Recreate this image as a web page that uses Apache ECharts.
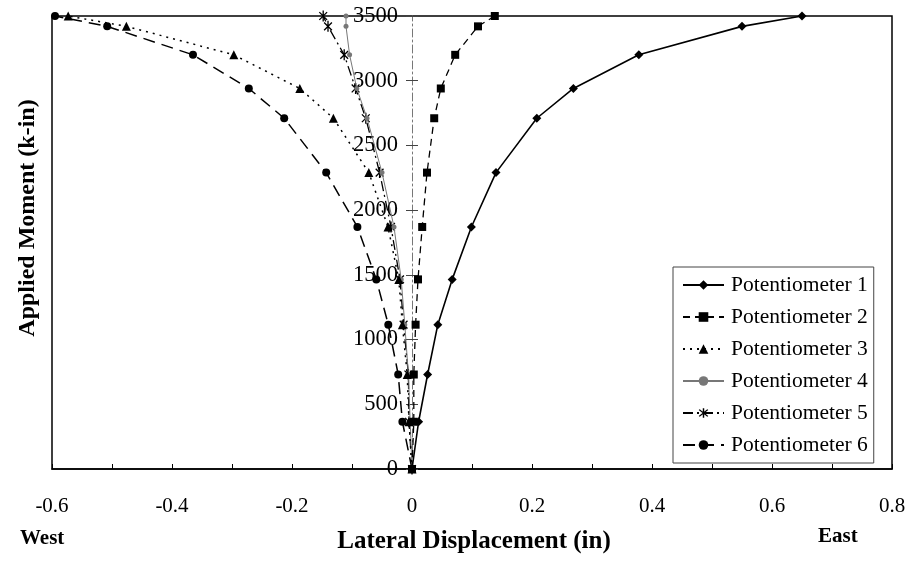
<!DOCTYPE html>
<html>
<head>
<meta charset="utf-8">
<script src="https://cdn.jsdelivr.net/npm/echarts@6/dist/echarts.min.js"></script>
<style>
html,body{margin:0;padding:0;background:#fff;}
#chart{width:911px;height:562px;}
</style>
</head>
<body>
<div id="chart"></div>
<script>
// Applied moment levels (k-in), shared by all potentiometers
var moments = [0, 365, 730, 1115, 1465, 1870, 2290, 2710, 2940, 3200, 3420, 3500];
// Lateral displacement (in) for each potentiometer
var pot1 = [0, 0.011, 0.026, 0.043, 0.067, 0.099, 0.140, 0.208, 0.269, 0.378, 0.550, 0.650];
var pot2 = [0, 0.003, 0.003, 0.006, 0.010, 0.017, 0.025, 0.037, 0.048, 0.072, 0.110, 0.138];
var pot3 = [0, -0.005, -0.008, -0.016, -0.022, -0.040, -0.072, -0.131, -0.187, -0.297, -0.476, -0.573];
var pot4 = [0, -0.003, -0.006, -0.012, -0.018, -0.030, -0.050, -0.075, -0.092, -0.104, -0.110, -0.110];
var pot5 = [0, -0.005, -0.006, -0.014, -0.020, -0.035, -0.054, -0.077, -0.094, -0.113, -0.140, -0.148];
var pot6 = [0, -0.016, -0.023, -0.0395, -0.0595, -0.091, -0.143, -0.213, -0.272, -0.365, -0.508, -0.595];
var seriesNames = ['Potentiometer 1', 'Potentiometer 2', 'Potentiometer 3', 'Potentiometer 4', 'Potentiometer 5', 'Potentiometer 6'];
var xTitle = 'Lateral Displacement (in)';
var yTitle = 'Applied Moment (k-in)';
var westLabel = 'West';
var eastLabel = 'East';

function pairs(xs) { return xs.map(function (v, i) { return [v, moments[i]]; }); }

var asterisk = 'path://M-1.2 -10L1.2 -10L1.2 10L-1.2 10Z' +
  'M-6.222 -7.92L7.92 6.222L6.222 7.92L-7.92 -6.222Z' +
  'M-7.92 6.222L6.222 -7.92L7.92 -6.222L-6.222 7.92Z';

var serif = '"Liberation Serif", "Times New Roman", serif';

var styles = [
  { data: pot1, symbol: 'diamond', size: 9, color: '#000', line: { type: 'solid', width: 1.6 } },
  { data: pot2, symbol: 'rect', size: 8, color: '#000', line: { type: [7, 5], width: 1.3 } },
  { data: pot3, symbol: 'triangle', size: 9, color: '#000', line: { type: [2, 5], width: 1.5 } },
  { data: pot4, symbol: 'circle', size: 5, color: '#777', line: { type: 'solid', width: 1 } },
  { data: pot5, symbol: asterisk, size: 11, color: '#000', line: { type: [10, 4, 2, 4], width: 1.3 } },
  { data: pot6, symbol: 'circle', size: 8, color: '#000', line: { type: [12, 7], width: 1.5 } }
];

var series = styles.map(function (s, i) {
  return {
    name: seriesNames[i],
    type: 'line',
    data: pairs(s.data),
    symbol: s.symbol,
    symbolSize: s.size,
    symbolKeepAspect: true,
    showSymbol: true,
    animation: false,
    itemStyle: { color: s.color },
    lineStyle: { color: s.color, type: s.line.type, width: s.line.width },
    z: 10 - i
  };
});

// grid geometry: x = 0 sits 0.6/1.4 of the way across the plot width
var gridLeft = 52, gridRight = 19, chartW = 911;
var plotW = chartW - gridLeft - gridRight;
var zeroOffset = -plotW * 0.6 / 1.4;

var chart = echarts.init(document.getElementById('chart'));
chart.setOption({
  backgroundColor: '#fff',
  animation: false,
  grid: {
    left: gridLeft, right: gridRight, top: 16, bottom: 93,
    containLabel: false, outerBoundsMode: 'none',
    show: true, borderColor: '#000', borderWidth: 1.5, backgroundColor: 'transparent'
  },
  xAxis: {
    type: 'value', min: -0.6, max: 0.8, interval: 0.2,
    axisLine: { onZero: false, lineStyle: { color: '#000', width: 1.5 } },
    axisTick: { show: true, inside: true, length: 5, lineStyle: { color: '#000' } },
    minorTick: { show: true, splitNumber: 2, length: 5, lineStyle: { color: '#000' } },
    splitLine: { show: false },
    axisLabel: { color: '#000', fontFamily: serif, fontSize: 21, margin: 27,
      formatter: function (v) { return String(Math.round(v * 10) / 10); } }
  },
  yAxis: [{
    type: 'value', min: 0, max: 3500, interval: 500, position: 'left', offset: zeroOffset,
    axisLine: { onZero: false, lineStyle: { color: '#777', width: 1, type: [8, 3, 2, 3] } },
    axisTick: { show: true, inside: false, length: 6, lineStyle: { color: '#444' } },
    splitLine: { show: false },
    axisLabel: { color: '#000', fontFamily: serif, fontSize: 22.5, margin: 14,
      formatter: function (v) { return String(v); } }
  }, {
    type: 'value', min: 0, max: 3500, interval: 500, position: 'left', offset: zeroOffset,
    axisLine: { show: false, onZero: false },
    axisTick: { show: true, inside: true, length: 6, lineStyle: { color: '#444' } },
    splitLine: { show: false },
    axisLabel: { show: false }
  }],
  legend: {
    orient: 'vertical',
    left: 673, top: 267,
    padding: [7, 6, 7, 9],
    itemWidth: 41, itemHeight: 12, itemGap: 10,
    backgroundColor: '#fff',
    borderColor: '#444', borderWidth: 1,
    textStyle: { color: '#000', fontFamily: serif, fontSize: 21.5, lineHeight: 22, padding: [0, 0, 0, 2] },
    data: seriesNames
  },
  graphic: [
    { type: 'text', x: 474, y: 529, style: { text: xTitle, font: 'bold 25px ' + serif, fill: '#000', align: 'center', verticalAlign: 'top' } },
    { type: 'text', x: 20, y: 528, style: { text: westLabel, font: 'bold 21px ' + serif, fill: '#000' } },
    { type: 'text', x: 818, y: 526, style: { text: eastLabel, font: 'bold 21px ' + serif, fill: '#000' } },
    { type: 'text', x: 16, y: 218, rotation: Math.PI / 2,
      style: { text: yTitle, font: 'bold 24px ' + serif, fill: '#000', align: 'center', verticalAlign: 'top' } }
  ],
  series: series
});
</script>
</body>
</html>
